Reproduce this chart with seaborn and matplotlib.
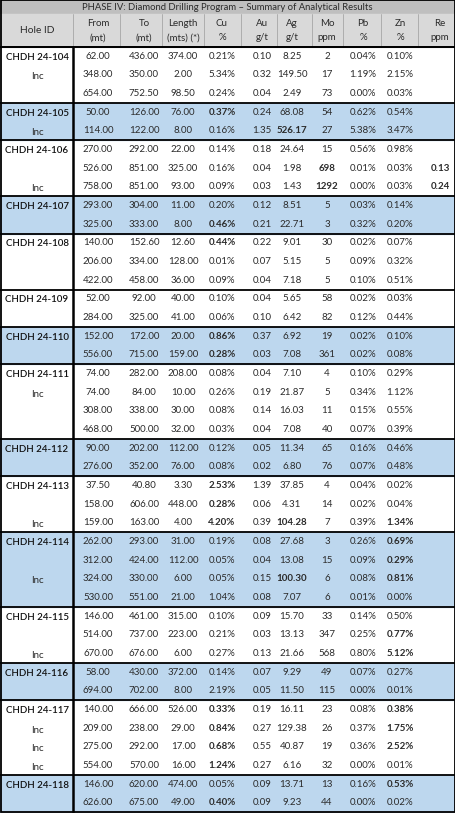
import matplotlib
matplotlib.use("Agg")
import matplotlib.pyplot as plt
import seaborn as sns
import numpy as np

sns.set_theme(style="white")
plt.rcParams['font.family'] = ['Lato', 'DejaVu Sans']

title = "PHASE IV: Diamond Drilling Program \u2013 Summary of Analytical Results"
headers = [("Hole ID", ""), ("From", "(mt)"), ("To", "(mt)"), ("Length", "(mts) (*)"),
           ("Cu", "%"), ("Au", "g/t"), ("Ag", "g/t"), ("Mo", "ppm"), ("Pb", "%"), ("Zn", "%"), ("Re", "ppm")]

holes = ["CHDH 24-104", "CHDH 24-105", "CHDH 24-106", "CHDH 24-107", "CHDH 24-108",
         "CHDH 24-109", "CHDH 24-110", "CHDH 24-111", "CHDH 24-112", "CHDH 24-113",
         "CHDH 24-114", "CHDH 24-115", "CHDH 24-116", "CHDH 24-117", "CHDH 24-118"]
rows_per_hole = [3, 2, 3, 2, 3, 2, 2, 4, 2, 3, 4, 3, 2, 4, 2]
shaded = [False, True, False, True, False, False, True, False, True, False, True, False, True, False, True]
inc_rows = [1, 4, 7, 18, 25, 28, 32, 36, 37, 38]

frm = ["62.00","348.00","654.00","50.00","114.00","270.00","526.00","758.00","293.00","325.00",
       "140.00","206.00","422.00","52.00","284.00","152.00","556.00","74.00","74.00","308.00","468.00",
       "90.00","276.00","37.50","158.00","159.00","262.00","312.00","324.00","530.00",
       "146.00","514.00","670.00","58.00","694.00","140.00","209.00","275.00","554.00","146.00","626.00"]
to = ["436.00","350.00","752.50","126.00","122.00","292.00","851.00","851.00","304.00","333.00",
      "152.60","334.00","458.00","92.00","325.00","172.00","715.00","282.00","84.00","338.00","500.00",
      "202.00","352.00","40.80","606.00","163.00","293.00","424.00","330.00","551.00",
      "461.00","737.00","676.00","430.00","702.00","666.00","238.00","292.00","570.00","620.00","675.00"]
length = ["374.00","2.00","98.50","76.00","8.00","22.00","325.00","93.00","11.00","8.00",
          "12.60","128.00","36.00","40.00","41.00","20.00","159.00","208.00","10.00","30.00","32.00",
          "112.00","76.00","3.30","448.00","4.00","31.00","112.00","6.00","21.00",
          "315.00","223.00","6.00","372.00","8.00","526.00","29.00","17.00","16.00","474.00","49.00"]
cu = ["0.21%","5.34%","0.24%","0.37%","0.16%","0.14%","0.16%","0.09%","0.20%","0.46%",
      "0.44%","0.01%","0.09%","0.10%","0.06%","0.86%","0.28%","0.08%","0.26%","0.08%","0.03%",
      "0.12%","0.08%","2.53%","0.28%","4.20%","0.19%","0.05%","0.05%","1.04%",
      "0.10%","0.21%","0.27%","0.14%","2.19%","0.33%","0.84%","0.68%","1.24%","0.05%","0.40%"]
au = ["0.10","0.32","0.04","0.24","1.35","0.18","0.04","0.03","0.12","0.21",
      "0.22","0.07","0.04","0.04","0.10","0.37","0.03","0.04","0.19","0.14","0.04",
      "0.05","0.02","1.39","0.06","0.39","0.08","0.04","0.15","0.08",
      "0.09","0.03","0.13","0.07","0.05","0.19","0.27","0.55","0.27","0.09","0.09"]
ag = ["8.25","149.50","2.49","68.08","526.17","24.64","1.98","1.43","8.51","22.71",
      "9.01","5.15","7.18","5.65","6.42","6.92","7.08","7.10","21.87","16.03","7.08",
      "11.34","6.80","37.85","4.31","104.28","27.68","13.08","100.30","7.07",
      "15.70","13.13","21.66","9.29","11.50","16.11","129.38","40.87","6.16","13.71","9.23"]
mo = ["2","17","73","54","27","15","698","1292","5","3",
      "30","5","5","58","82","19","361","4","5","11","40",
      "65","76","4","14","7","3","15","6","6",
      "33","347","568","49","115","23","26","19","32","13","44"]
pb = ["0.04%","1.19%","0.00%","0.62%","5.38%","0.56%","0.01%","0.00%","0.03%","0.32%",
      "0.02%","0.09%","0.10%","0.02%","0.12%","0.02%","0.02%","0.10%","0.34%","0.15%","0.07%",
      "0.16%","0.07%","0.04%","0.02%","0.39%","0.26%","0.09%","0.08%","0.01%",
      "0.14%","0.25%","0.80%","0.07%","0.00%","0.08%","0.37%","0.36%","0.00%","0.16%","0.00%"]
zn = ["0.10%","2.15%","0.03%","0.54%","3.47%","0.98%","0.03%","0.03%","0.14%","0.20%",
      "0.07%","0.32%","0.51%","0.03%","0.44%","0.10%","0.08%","0.29%","1.12%","0.55%","0.39%",
      "0.46%","0.48%","0.02%","0.04%","1.34%","0.69%","0.29%","0.81%","0.00%",
      "0.50%","0.77%","5.12%","0.27%","0.01%","0.38%","1.75%","2.52%","0.01%","0.53%","0.02%"]
re = [""] * 41
re[6] = "0.13"
re[7] = "0.24"

bold_cells = [(3,4),(4,6),(6,7),(6,10),(7,7),(7,10),(9,4),(10,4),(15,4),(16,4),
              (23,4),(24,4),(25,4),(25,6),(25,9),(26,9),(27,9),(28,6),(28,9),
              (31,9),(32,9),(35,4),(36,4),(37,4),(38,4),(35,9),(36,9),(37,9),(39,9),(40,4)]

cols = [frm, to, length, cu, au, ag, mo, pb, zn, re]

# layout (pixels)
W, H = 455, 813
xb = [0, 73, 120, 162, 204, 241, 277, 312, 343, 381, 418, 455]
xc = [37, 98, 144, 183, 222, 262, 292, 327, 363, 400, 440]
y_title, y_head, y_data, y_end = 0, 14, 47, 812
rh = (y_end - y_data) / 41.0

fig = plt.figure(figsize=(W / 100, H / 100), dpi=100)
ax = fig.add_axes([0, 0, 1, 1])
ax.set_xlim(0, W)
ax.set_ylim(H, 0)
ax.axis("off")

blue = "#BDD7EE"
txt = "#2b2b2b"
fs = 7.0

ax.add_patch(plt.Rectangle((0, y_title), W, y_head - y_title, color="#BFBFBF", zorder=0))
ax.add_patch(plt.Rectangle((0, y_head), W, y_data - y_head, color="#D9D9D9", zorder=0))
ax.text(W / 2, (y_title + y_head) / 2 + 0.5, title, ha="center", va="center", fontsize=6.8, color=txt)
for i, (h1, h2) in enumerate(headers):
    if h2:
        ax.text(xc[i], y_head + 10, h1, ha="center", va="center", fontsize=fs, color=txt)
        ax.text(xc[i], y_head + 24, h2, ha="center", va="center", fontsize=fs, color=txt)
    else:
        ax.text(xc[i], (y_head + y_data) / 2, h1, ha="center", va="center", fontsize=7.4, color=txt)
for x in xb[1:-1]:
    ax.plot([x, x], [y_head, y_data], color="#A6A6A6", lw=0.6)

r = 0
for hole, n, sh in zip(holes, rows_per_hole, shaded):
    top = y_data + r * rh
    if sh:
        ax.add_patch(plt.Rectangle((0, top), W, n * rh, color=blue, zorder=0))
    ax.text(xc[0], top + rh / 2 + 1, hole, ha="center", va="center", fontsize=fs,
            color="#111111", fontweight="semibold")
    ax.plot([0, W], [top, top], color="black", lw=1.3, zorder=3)
    r += n
for ri in inc_rows:
    ax.text(xc[0], y_data + ri * rh + rh / 2 + 2, "Inc", ha="center", va="center", fontsize=fs, color=txt)

for ri in range(41):
    yy = y_data + ri * rh + rh / 2
    for ci, col in enumerate(cols):
        v = col[ri]
        if v:
            b = (ri, ci + 1) in bold_cells
            ax.text(xc[ci + 1], yy, v, ha="center", va="center", fontsize=fs, color=txt,
                    fontweight="bold" if b else "normal")

ax.plot([xb[1], xb[1]], [y_data, y_end], color="black", lw=1.8, zorder=3)
ax.plot([0, W], [y_data, y_data], color="black", lw=1.3, zorder=3)
ax.add_patch(plt.Rectangle((0.5, 0.5), W - 1, y_end - 0.5, fill=False, ec="black", lw=1.3, zorder=4))

fig.savefig("out.png", dpi=100, facecolor="white")
